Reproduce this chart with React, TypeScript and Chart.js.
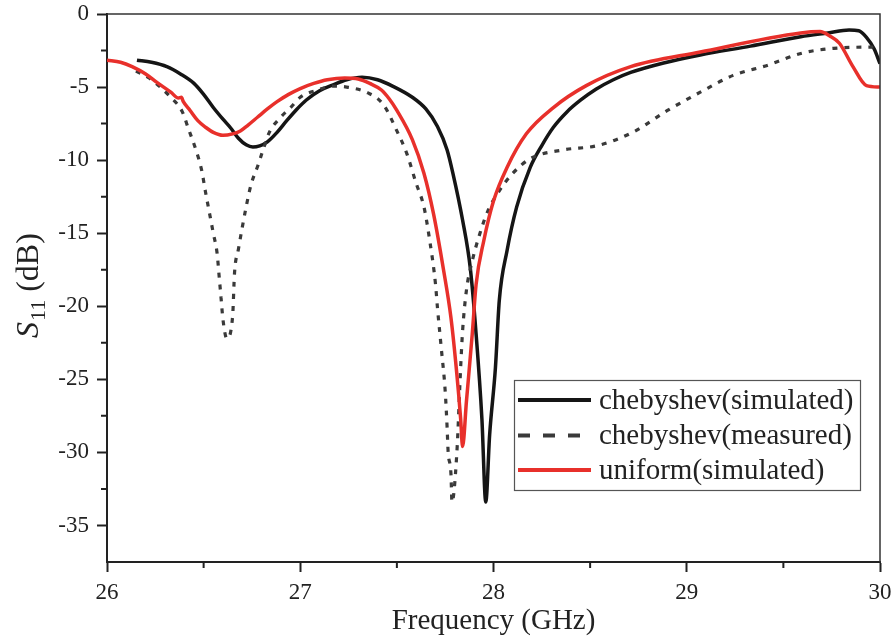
import { useEffect, useRef } from 'react';
import { Chart, registerables } from 'chart.js';

Chart.register(...registerables);

// ---- data ----
const chebSimFreq = [
  26.155, 26.23, 26.31, 26.38, 26.45, 26.5, 26.55, 26.6, 26.64, 26.68, 26.72, 26.755, 26.79, 26.83,
  26.88, 26.93, 26.98, 27.03, 27.1, 27.17, 27.24, 27.32, 27.4, 27.48, 27.58, 27.65, 27.71, 27.76, 27.79,
  27.84, 27.88, 27.91, 27.94, 27.96, 27.98, 28.01, 28.03, 28.07, 28.12, 28.19, 28.25, 28.31, 28.38,
  28.45, 28.53, 28.62, 28.71, 28.88, 29.07, 29.33, 29.59, 29.73, 29.84, 29.89, 29.93, 29.97, 30.0,
];
const chebSimS11 = [
  -3.16, -3.3, -3.6, -4.1, -4.75, -5.5, -6.4, -7.2, -7.8, -8.5, -8.95, -9.1, -9.02, -8.75,
  -8.1, -7.3, -6.55, -5.9, -5.25, -4.85, -4.5, -4.33, -4.5, -4.95, -5.7, -6.5, -7.7, -9.3, -10.9,
  -14.1, -17.4, -21.9, -27.7, -33.4, -28.8, -24.2, -19.6, -16.2, -13.2, -10.5, -9.0, -7.75, -6.7,
  -5.9, -5.15, -4.5, -4.0, -3.35, -2.8, -2.2, -1.56, -1.3, -1.1, -1.15, -1.6, -2.4, -3.4,
];

const chebMeasFreq = [
  26.15, 26.22, 26.33, 26.39, 26.42, 26.46, 26.49, 26.51, 26.53, 26.55, 26.57, 26.58, 26.59, 26.6,
  26.62, 26.65, 26.66, 26.68, 26.7, 26.72, 26.745, 26.78, 26.81, 26.84, 26.9, 26.95, 27.0, 27.09,
  27.17, 27.24, 27.35, 27.43, 27.5, 27.55, 27.6, 27.64, 27.67, 27.7, 27.71, 27.73, 27.75, 27.76,
  27.765, 27.78, 27.785, 27.81, 27.83, 27.84, 27.86, 27.89, 27.93, 27.97, 28.03, 28.1, 28.19, 28.36,
  28.54, 28.72, 28.9, 29.07, 29.24, 29.42, 29.59, 29.76, 30.0,
];
const chebMeasS11 = [
  -3.9, -4.4, -5.7, -6.7, -7.8, -9.3, -10.7, -12.2, -13.6, -15.0, -16.4, -17.9, -19.4, -20.9,
  -22.2, -20.7, -17.7, -16.1, -14.6, -13.2, -11.7, -10.4, -9.2, -8.1, -7.05, -6.4, -5.7, -5.2,
  -4.94, -5.0, -5.4, -6.2, -8.0, -9.5, -11.6, -13.2, -15.5, -18.5, -20.1, -22.9, -25.8, -28.3,
  -29.9, -31.5, -33.4, -30.1, -24.2, -21.7, -18.9, -16.9, -15.0, -13.5, -12.1, -10.9, -9.9, -9.3,
  -9.0, -8.1, -6.6, -5.35, -4.2, -3.5, -2.7, -2.35, -2.25,
];

const uniformFreq = [
  26.0, 26.07, 26.13, 26.2, 26.26, 26.33, 26.37, 26.385, 26.395, 26.43, 26.47, 26.51, 26.55, 26.6,
  26.65, 26.69, 26.73, 26.78, 26.83, 26.88, 26.94, 27.0, 27.07, 27.14, 27.23, 27.3, 27.36, 27.42, 27.46,
  27.5, 27.58, 27.64, 27.69, 27.74, 27.78, 27.81, 27.83, 27.84, 27.86, 27.89, 27.91, 27.95, 28.0,
  28.07, 28.17, 28.31, 28.48, 28.71, 29.07, 29.59, 29.69, 29.74, 29.79, 29.86, 29.93, 30.0,
];
const uniformS11 = [
  -3.16, -3.3, -3.6, -4.1, -4.7, -5.35, -5.75, -5.7, -6.0, -6.6, -7.3, -7.75, -8.1, -8.3,
  -8.2, -8.0, -7.6, -7.05, -6.5, -6.0, -5.5, -5.1, -4.75, -4.5, -4.38, -4.45, -4.75, -5.2, -5.8,
  -6.6, -8.6, -10.9, -13.7, -17.4, -20.8, -24.6, -27.7, -29.6, -26.5, -21.9, -18.5, -15.5, -12.8,
  -10.5, -8.2, -6.4, -4.9, -3.6, -2.6, -1.3, -1.2, -1.5, -2.0, -3.6, -4.9, -5.0,
];

const seriesLabels = ['chebyshev(simulated)', 'chebyshev(measured)', 'uniform(simulated)'];
const xMin = 26;
const xMax = 30;
const yMin = -37.5;
const yMax = 0;
const xMinorTicks = [26.5, 27.5, 28.5, 29.5];
const yMinorTicks = [-2.5, -7.5, -12.5, -17.5, -22.5, -27.5, -32.5];

const SERIF = '"Liberation Serif", "Times New Roman", Times, serif';
const BLACK = '#151515';
const RED = '#e8302b';
const DASH = '#3a3a3a';

const toXY = (xs: number[], ys: number[]) => xs.map((x, i) => ({ x, y: ys[i] }));

const decorPlugin = {
  id: 'decor',
  afterDraw(chart: any) {
    const { ctx, chartArea: a, scales } = chart;
    ctx.save();
    // top and right frame lines
    ctx.strokeStyle = '#333';
    ctx.lineWidth = 1.5;
    ctx.beginPath();
    ctx.moveTo(a.left, a.top);
    ctx.lineTo(a.right, a.top);
    ctx.lineTo(a.right, a.bottom);
    ctx.stroke();

    // minor ticks
    ctx.strokeStyle = '#222';
    ctx.lineWidth = 2;
    ctx.beginPath();
    for (const v of xMinorTicks) {
      const px = scales.x.getPixelForValue(v);
      ctx.moveTo(px, a.bottom);
      ctx.lineTo(px, a.bottom + 6);
    }
    for (const v of yMinorTicks) {
      const py = scales.y.getPixelForValue(v);
      ctx.moveTo(a.left, py);
      ctx.lineTo(a.left - 6, py);
    }
    ctx.stroke();

    // y axis title: S_11 (dB)
    ctx.fillStyle = '#222';
    ctx.translate(38, 338);
    ctx.rotate(-Math.PI / 2);
    ctx.textBaseline = 'alphabetic';
    ctx.textAlign = 'left';
    ctx.font = `italic 32px ${SERIF}`;
    ctx.fillText('S', 0, 0);
    let w = ctx.measureText('S').width + 1;
    ctx.font = `22px ${SERIF}`;
    ctx.fillText('11', w, 7);
    w += ctx.measureText('11').width;
    ctx.font = `32px ${SERIF}`;
    ctx.fillText(' (dB)', w, 0);
    ctx.restore();

    // legend box
    ctx.save();
    const bx = 514.5;
    const by = 380.5;
    const bw = 346;
    const bh = 110;
    ctx.fillStyle = '#fff';
    ctx.fillRect(bx, by, bw, bh);
    ctx.strokeStyle = '#555';
    ctx.lineWidth = 1.2;
    ctx.strokeRect(bx, by, bw, bh);
    const rows = [400, 435.5, 470];
    chart.data.datasets.forEach((ds: any, i: number) => {
      const y = rows[i];
      ctx.strokeStyle = ds.borderColor;
      ctx.lineWidth = 4;
      ctx.setLineDash(ds.borderDash && ds.borderDash.length ? [12, 13] : []);
      ctx.beginPath();
      ctx.moveTo(518, y);
      ctx.lineTo(591, y);
      ctx.stroke();
      ctx.setLineDash([]);
      ctx.fillStyle = '#222';
      ctx.font = `29px ${SERIF}`;
      ctx.textBaseline = 'middle';
      ctx.textAlign = 'left';
      ctx.fillText(ds.label, 599, y + 1);
    });
    ctx.restore();
  },
};

export default function App() {
  const canvasRef = useRef<HTMLCanvasElement | null>(null);

  useEffect(() => {
    if (!canvasRef.current) return;
    const chart = new Chart(canvasRef.current, {
      type: 'line',
      data: {
        datasets: [
          {
            label: seriesLabels[0],
            data: toXY(chebSimFreq, chebSimS11),
            borderColor: BLACK,
            borderWidth: 3.5,
            pointRadius: 0,
            cubicInterpolationMode: 'monotone',
            order: 2,
          },
          {
            label: seriesLabels[1],
            data: toXY(chebMeasFreq, chebMeasS11),
            borderColor: DASH,
            borderWidth: 3.2,
            borderDash: [5, 7],
            pointRadius: 0,
            cubicInterpolationMode: 'monotone',
            order: 1,
          },
          {
            label: seriesLabels[2],
            data: toXY(uniformFreq, uniformS11),
            borderColor: RED,
            borderWidth: 3.5,
            pointRadius: 0,
            cubicInterpolationMode: 'monotone',
            order: 0,
          },
        ],
      },
      options: {
        animation: false,
        responsive: true,
        maintainAspectRatio: false,
        layout: { padding: { top: 14, right: 14, left: 0, bottom: 0 } },
        plugins: { legend: { display: false }, tooltip: { enabled: false } },
        scales: {
          x: {
            type: 'linear',
            min: xMin,
            max: xMax,
            afterFit: (s: any) => {
              s.height = 81;
              s.paddingLeft = 0;
              s.paddingRight = 0;
            },
            ticks: {
              stepSize: 1,
              color: '#222',
              padding: 7,
              font: { family: SERIF, size: 23 },
              callback: (v: any) => String(v),
            },
            grid: {
              display: true,
              drawOnChartArea: false,
              drawTicks: true,
              tickLength: 10,
              tickWidth: 2,
              tickColor: '#222',
            },
            border: { display: true, color: '#222', width: 2 },
            title: {
              display: true,
              text: 'Frequency (GHz)',
              color: '#222',
              font: { family: SERIF, size: 29 },
              padding: { top: 0, bottom: 4 },
            },
          },
          y: {
            type: 'linear',
            min: yMin,
            max: yMax,
            afterFit: (s: any) => {
              s.width = 107;
              s.paddingTop = 0;
              s.paddingBottom = 0;
            },
            ticks: {
              stepSize: 5,
              includeBounds: false,
              color: '#222',
              padding: 8,
              font: { family: SERIF, size: 23 },
              callback: (v: any) => String(v),
            },
            grid: {
              display: true,
              drawOnChartArea: false,
              drawTicks: true,
              tickLength: 10,
              tickWidth: 2,
              tickColor: '#222',
            },
            border: { display: true, color: '#222', width: 2 },
          },
        },
      },
      plugins: [decorPlugin],
    } as any);
    return () => chart.destroy();
  }, []);

  return (
    <div style={{ position: 'fixed', left: 0, top: 0, width: 894, height: 643, background: '#fff' }}>
      <canvas ref={canvasRef} />
    </div>
  );
}
